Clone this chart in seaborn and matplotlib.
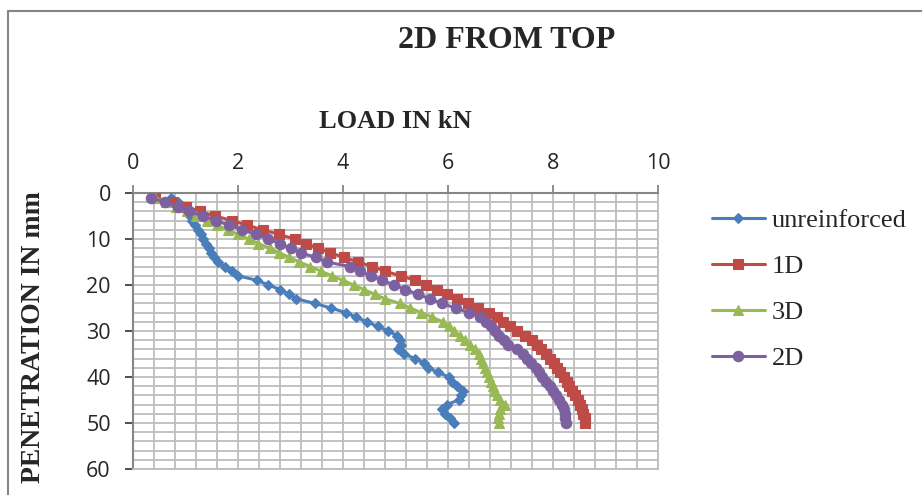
import numpy as np
import pandas as pd
import matplotlib
matplotlib.use("Agg")
import matplotlib.pyplot as plt
from matplotlib.lines import Line2D
from matplotlib.ticker import MultipleLocator
import seaborn as sns

# ---------------- data ----------------
penetration = list(range(1, 51))  # mm

unreinforced = [0.72, 0.86, 0.95, 1.02, 1.08, 1.13, 1.19, 1.24, 1.29, 1.34,
                1.39, 1.44, 1.49, 1.55, 1.62, 1.76, 1.88, 2.00, 2.37, 2.58,
                2.80, 2.97, 3.11, 3.46, 3.77, 4.05, 4.25, 4.45, 4.66, 4.86,
                5.03, 5.09, 5.10, 5.04, 5.17, 5.37, 5.55, 5.62, 5.81, 6.02,
                6.08, 6.18, 6.28, 6.24, 6.20, 5.98, 5.88, 5.94, 6.03, 6.11]

d1 = [0.42, 0.75, 1.00, 1.27, 1.57, 1.88, 2.18, 2.47, 2.78, 3.08,
      3.30, 3.52, 3.76, 4.02, 4.29, 4.56, 4.80, 5.10, 5.38, 5.59,
      5.79, 5.98, 6.18, 6.38, 6.58, 6.78, 6.93, 7.05, 7.18, 7.31,
      7.47, 7.60, 7.70, 7.78, 7.87, 7.94, 8.01, 8.08, 8.14, 8.20,
      8.26, 8.31, 8.37, 8.42, 8.47, 8.52, 8.55, 8.58, 8.60, 8.61]

d3 = [0.42, 0.62, 0.82, 1.02, 1.20, 1.40, 1.60, 1.80, 2.00, 2.20,
      2.39, 2.60, 2.79, 2.98, 3.17, 3.38, 3.58, 3.79, 4.00, 4.20,
      4.40, 4.60, 4.80, 5.08, 5.28, 5.49, 5.70, 5.90, 6.02, 6.11,
      6.22, 6.33, 6.42, 6.52, 6.59, 6.63, 6.67, 6.70, 6.75, 6.78,
      6.82, 6.85, 6.88, 6.93, 6.99, 7.08, 6.99, 6.97, 6.96, 6.97]

d2 = [0.35, 0.60, 0.85, 1.07, 1.33, 1.58, 1.83, 2.08, 2.34, 2.58,
      2.80, 3.00, 3.20, 3.48, 3.70, 4.13, 4.32, 4.53, 4.75, 4.97,
      5.19, 5.42, 5.66, 5.88, 6.15, 6.40, 6.60, 6.73, 6.82, 6.89,
      6.97, 7.06, 7.14, 7.31, 7.42, 7.51, 7.59, 7.67, 7.73, 7.79,
      7.87, 7.94, 8.00, 8.06, 8.12, 8.17, 8.20, 8.22, 8.23, 8.24]

series_names = ["unreinforced", "1D", "3D", "2D"]
series_values = [unreinforced, d1, d3, d2]

x_ticks = [0, 2, 4, 6, 8, 10]
y_ticks = [0, 10, 20, 30, 40, 50, 60]

title_text = "2D FROM TOP"
x_label = "LOAD IN kN"
y_label = "PENETRATION IN mm"

# ---------------- styles ----------------
colors = ["#4A7EBB", "#BE4B48", "#98B954", "#7D60A0"]
markers = ["D", "s", "^", "o"]
msizes = [5.0, 7.0, 7.5, 7.5]

rows = []
for name, vals in zip(series_names, series_values):
    for p, v in zip(penetration, vals):
        rows.append({"series": name, "load": v, "penetration": p})
df = pd.DataFrame(rows)

sns.set_style("white")
plt.rcParams["font.family"] = ["Liberation Serif", "DejaVu Serif"]

W, H = 922, 495
fig = plt.figure(figsize=(W / 100, H / 100), dpi=100)
fig.patch.set_facecolor("white")

ax_l, ax_r, ax_t, ax_b = 133, 658, 193, 469
ax = fig.add_axes([ax_l / W, 1 - ax_b / H, (ax_r - ax_l) / W, (ax_b - ax_t) / H])

for name, col, mk, ms in zip(series_names, colors, markers, msizes):
    sub = df[df["series"] == name]
    sns.lineplot(data=sub, x="load", y="penetration", sort=False, estimator=None,
                 color=col, marker=mk, markersize=ms, markeredgecolor=col,
                 markeredgewidth=0.8, linewidth=2.2, ax=ax, label=name, zorder=3)

ax.set_xlim(0, 10)
ax.set_ylim(60, 0)
ax.xaxis.tick_top()
ax.xaxis.set_label_position("top")
ax.set_xticks(x_ticks)
ax.set_yticks(y_ticks)
ax.xaxis.set_minor_locator(MultipleLocator(0.4))
ax.yaxis.set_minor_locator(MultipleLocator(2))
ax.grid(True, which="both", color="#BDBDBD", linewidth=1.3, zorder=0)
ax.set_axisbelow(True)

tick_font = dict(family=["Open Sans", "DejaVu Sans"], size=15.5)
ax.set_xticklabels([str(t) for t in x_ticks], fontdict=tick_font)
ax.set_yticklabels([str(t) for t in y_ticks], fontdict=tick_font)
ax.tick_params(axis="x", which="major", direction="out", length=6, width=1.3,
               color="#868686", pad=8, top=True, bottom=False)
ax.tick_params(axis="y", which="major", direction="out", length=6, width=1.3,
               color="#404040", pad=10, left=True)
ax.tick_params(which="minor", length=0)

for side in ["top", "left"]:
    ax.spines[side].set_visible(True)
    ax.spines[side].set_color("#868686")
    ax.spines[side].set_linewidth(1.5)
for side in ["right", "bottom"]:
    ax.spines[side].set_visible(True)
    ax.spines[side].set_color("#BDBDBD")
    ax.spines[side].set_linewidth(1.3)

ax.set_xlabel(x_label, family=["Liberation Serif"], weight="bold", size=19)
ax.xaxis.set_label_coords(0.5, (469 - 121) / 276)
ax.xaxis.label.set_va("center")
ax.set_ylabel(y_label, family=["Liberation Serif"], weight="bold", size=20)
ax.yaxis.set_label_coords((34 - 133) / 525, (469 - 337) / 276)
ax.yaxis.label.set_va("center")
ax.yaxis.label.set_ha("center")

fig.text(507 / W, 1 - 41 / H, title_text, ha="center", va="center",
         family=["Liberation Serif"], weight="bold", size=23)

leg = ax.legend(loc="upper left", bbox_to_anchor=(712 / W, 1 - 209 / H),
                bbox_transform=fig.transFigure, frameon=False,
                prop=dict(family="Liberation Serif", size=19),
                handlelength=2.0, handletextpad=0.25, labelspacing=0.85,
                borderpad=0, borderaxespad=0, numpoints=1)

# outer chart border (top and left visible)
fig.add_artist(Line2D([8 / W, 8 / W], [0, 1 - 11 / H], transform=fig.transFigure,
                      color="#868686", linewidth=1.5))
fig.add_artist(Line2D([8 / W, 1], [1 - 11 / H, 1 - 11 / H], transform=fig.transFigure,
                      color="#868686", linewidth=1.5))

fig.savefig("out.png", dpi=100, facecolor="white")
